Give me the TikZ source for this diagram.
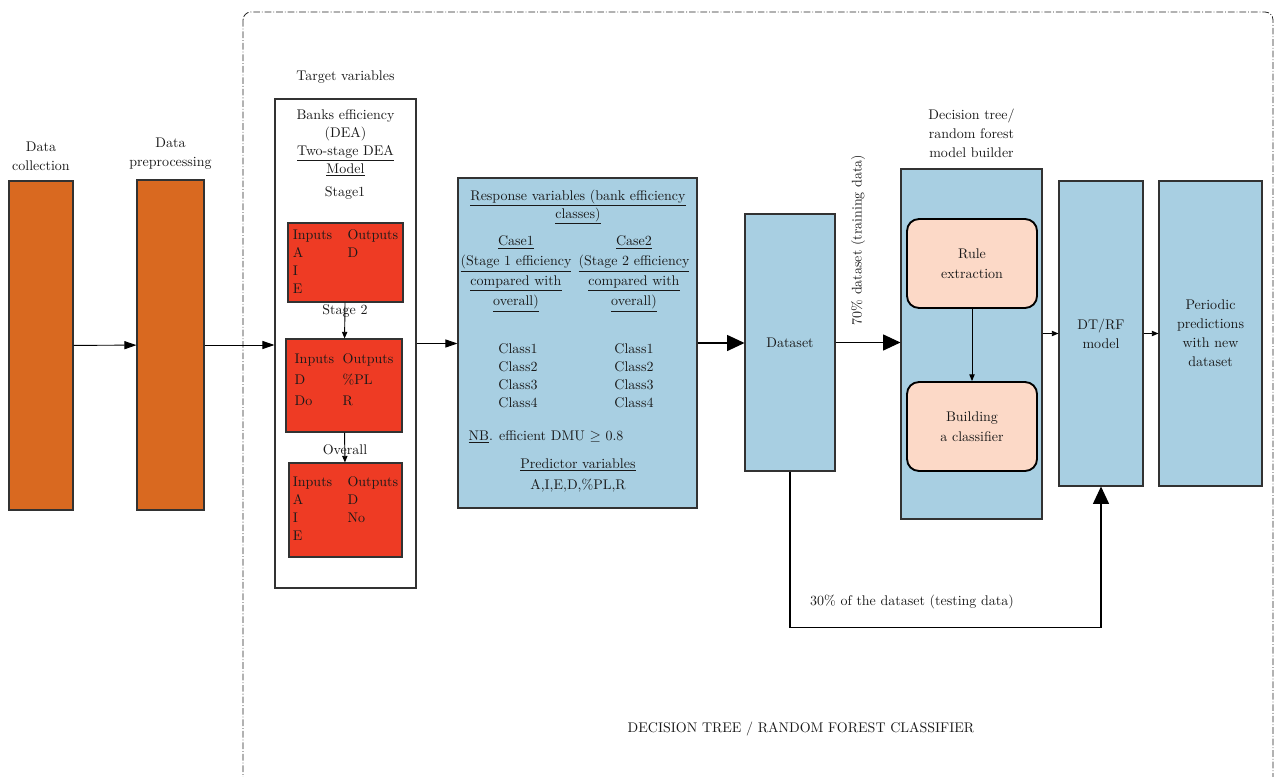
\documentclass[tikz,border=0pt]{standalone}
\usetikzlibrary{arrows.meta,positioning}
\newcommand\pu{0.75pt}
\definecolor{dataorange}{RGB}{217,105,32}
\definecolor{stagered}{RGB}{238,59,36}
\definecolor{flowblue}{RGB}{168,207,226}
\definecolor{rulepeach}{RGB}{252,217,199}
\definecolor{edgegray}{RGB}{50,50,50}
\begin{document}
\begin{tikzpicture}[x=\pu,y=-\pu,
  every node/.style={font=\fontsize{10.5}{13.5}\selectfont, text=black!90},
  dims/.style 2 args={minimum width=#1*\pu, minimum height=#2*\pu, inner sep=0pt},
  orangebox/.style={draw=edgegray, line width=0.8pt, fill=dataorange},
  redbox/.style={draw=edgegray, line width=0.8pt, fill=stagered},
  bluebox/.style={draw=edgegray, line width=0.8pt, fill=flowblue, align=center},
  peachbox/.style={draw=black, line width=1.4pt, fill=rulepeach, rounded corners=9pt, align=center,
    font=\fontsize{10.5}{15}\selectfont},
  plainbox/.style={draw=edgegray, line width=0.8pt, fill=white},
  plaintext/.style={align=center, inner sep=1pt},
  midarrow/.style={-{Triangle[length=9pt,width=6pt]}, line width=0.7pt},
  bigarrow/.style={-{Triangle[length=13pt,width=12pt]}, line width=0.8pt},
  smallarrow/.style={-{Triangle[length=5pt,width=4pt]}, line width=0.7pt},
  outerframe/.style={draw=black!85, line width=0.6pt, rounded corners=6pt,
    dash pattern=on 5pt off 1.5pt on 0.6pt off 1.5pt}]

  \useasboundingbox (0,0) rectangle (1274,777);
  \begin{scope}
    \clip (0,0) rectangle (1274,777);
    \draw[outerframe] (243,12) rectangle (1273,800);
  \end{scope}

  \node[orangebox, dims={64}{329}] (coll) at (41,345.5) {};
    \node[plaintext, above=6pt of coll, font=\fontsize{10.5}{14.25}\selectfont] (collcap) {Data\\collection};
  \node[orangebox, dims={67}{330}] (prep) at (170.5,345) {};
    \node[plaintext, above=6pt of prep, font=\fontsize{10.5}{14.25}\selectfont] (prepcap) {Data\\preprocessing};

  \node[plainbox, dims={141}{489}] (target) at (345.5,343.5) {};
    \node[plaintext, above=10pt of target] (targetcap) {Target variables};
  \node[plaintext] (dea) at (345.5,142.5) {Banks efficiency\\(DEA)\\\underline{Two-stage DEA}\\\underline{Model}};
  \node[plaintext] (stage1) at (345,193) {Stage1};
  \node[redbox, dims={115}{79}] (red1) at (345.5,262.5)
    {\begin{tabular}{@{}p{41pt}@{}l@{}}Inputs & Outputs\\ A & D\\ I & \\ E & \end{tabular}};
  \node[plaintext] (stage2) at (345,311) {Stage 2};
  \node[redbox, dims={116}{93}] (red2) at (344,385.5)
    {\renewcommand\arraystretch{1.15}\begin{tabular}{@{}p{36pt}@{}l@{}}Inputs & Outputs\\ D & \%PL\\ Do & R\\[8pt]\end{tabular}};
  \node[plaintext] (overall) at (345,450) {Overall};
  \node[redbox, dims={113}{94}] (red3) at (345.5,510)
    {\begin{tabular}{@{}p{41pt}@{}l@{}}Inputs & Outputs\\ A & D\\ I & No\\ E & \end{tabular}};
  \draw[smallarrow] (red1) -- (red2);
  \draw[smallarrow] (red2) -- (red3);

  \node[bluebox, dims={239}{330}] (resp) at (577.5,343) {};
  \node[plaintext] (resphead) at (578,207) {\underline{Response variables (bank efficiency}\\\underline{classes)}};
  \node[plaintext, font=\fontsize{10.5}{15}\selectfont] (case1) at (516,274)
    {\underline{Case1}\\\underline{(Stage 1 efficiency}\\\underline{compared with}\\\underline{overall)}};
  \node[plaintext, font=\fontsize{10.5}{15}\selectfont] (case2) at (634,274)
    {\underline{Case2}\\\underline{(Stage 2 efficiency}\\\underline{compared with}\\\underline{overall)}};
  \node[plaintext] (classes1) at (518,375.5) {Class1\\Class2\\Class3\\Class4};
  \node[plaintext] (classes2) at (634,375.5) {Class1\\Class2\\Class3\\Class4};
  \node[plaintext, anchor=west] (nb) at (467,437) {\underline{NB}. efficient DMU $\geq$ 0.8};
  \node[plaintext, font=\fontsize{10.5}{16}\selectfont] (predictors) at (578,475.5)
    {\underline{Predictor variables}\\A,I,E,D,\%PL,R};

  \node[bluebox, dims={90}{257}] (data) at (790,342.5) {Dataset};
  \node[bluebox, dims={141}{350}] (build) at (971.5,344) {};
    \node[plaintext, above=7pt of build, font=\fontsize{10.5}{14.25}\selectfont] (buildcap)
      {Decision tree/\\random forest\\model builder};
  \node[peachbox, dims={130}{89}] (rule) at (972,263.5) {Rule\\extraction};
  \node[peachbox, dims={130}{89}] (clf) at (972,426.5) {Building\\a classifier};
  \node[bluebox, dims={84}{305}, font=\fontsize{10.5}{14.25}\selectfont] (dtrf) at (1101,333.5) {DT/RF\\model};
  \node[bluebox, dims={103}{305}, font=\fontsize{10.5}{14.25}\selectfont] (pred) at (1210.5,333.5)
    {Periodic\\predictions\\with new\\dataset};

  \node[plaintext, rotate=90] (trainlab) at (858,240) {70\% dataset (training data)};
  \node[plaintext] (testlab) at (912,602) {30\% of the dataset (testing data)};
  \node[plaintext] (frametitle) at (801,729) {DECISION TREE / RANDOM FOREST CLASSIFIER};

  \draw[midarrow] (coll) -- (prep);
  \draw[midarrow] (prep.east) -- (prep.east -| target.west);
  \draw[midarrow] (target.east) -- (target.east -| resp.west);
  \draw[bigarrow] (resp.east) -- (resp.east -| data.west);
  \draw[bigarrow] (data.east) -- (data.east -| build.west);
  \draw[smallarrow] (rule) -- (clf);
  \draw[smallarrow] (build.east |- dtrf.west) -- (dtrf.west);
  \draw[smallarrow] (dtrf) -- (pred);
  \draw[bigarrow] (data.south) -- ++(0,156) -| (dtrf.south);
\end{tikzpicture}
\end{document}
